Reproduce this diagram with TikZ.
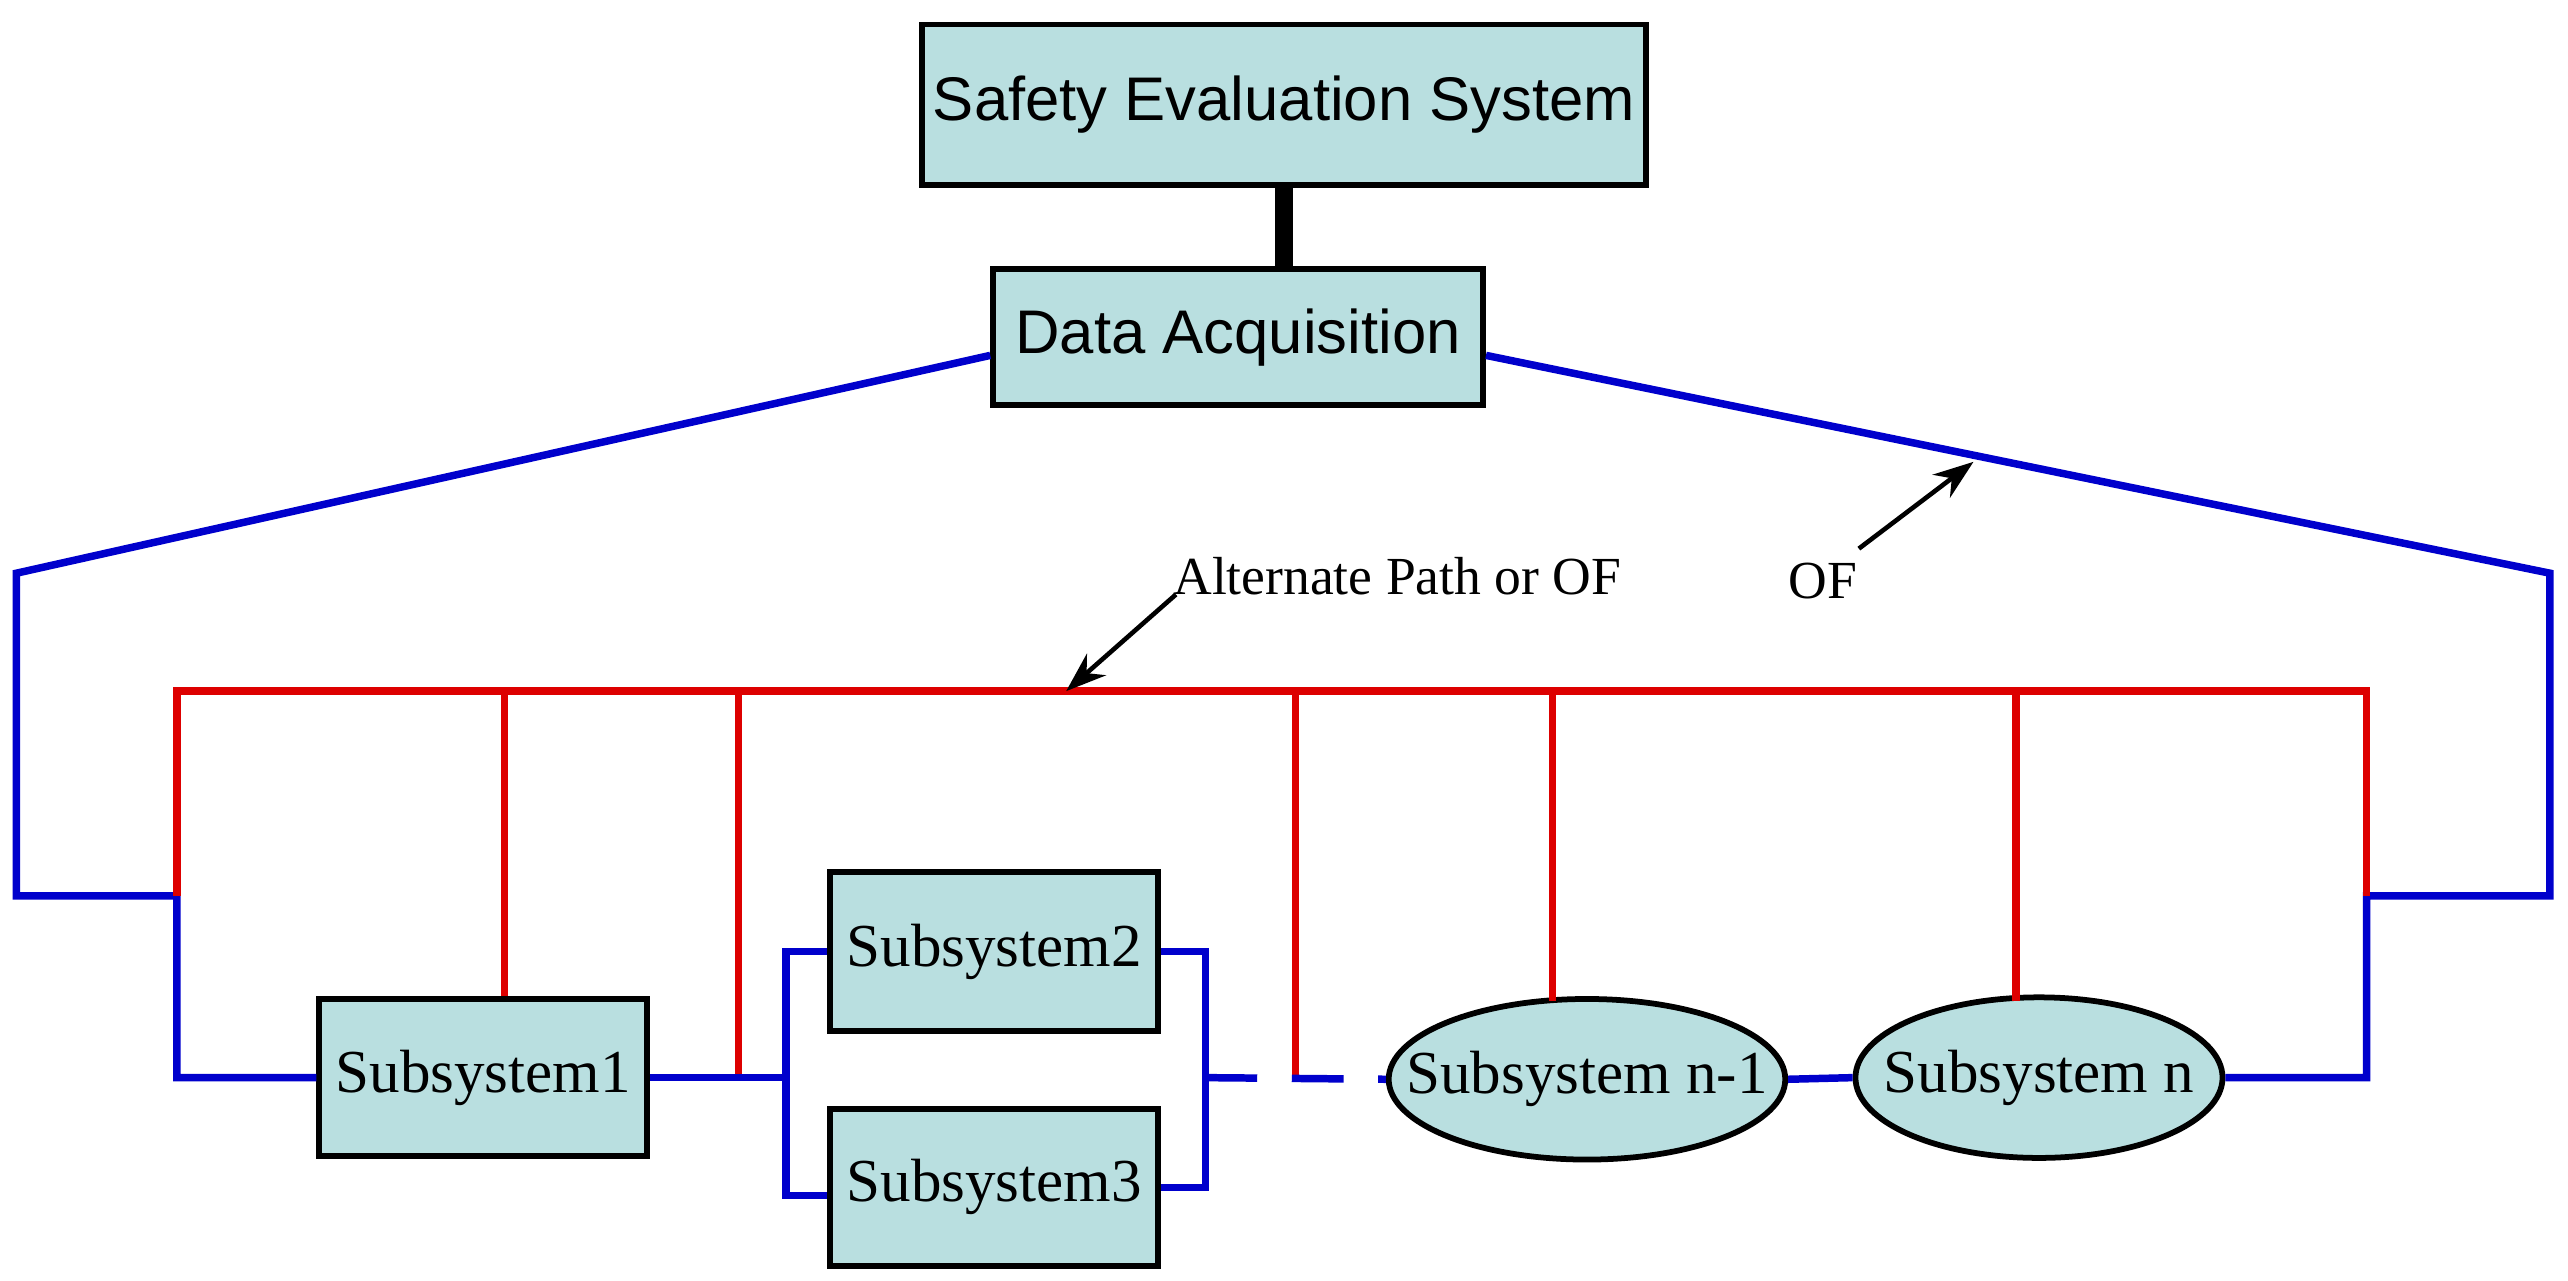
\documentclass[tikz,border=0pt]{standalone}
\usepackage{fontspec}
\setmainfont{Liberation Serif}
\newfontfamily\arialf{Liberation Sans}
\usetikzlibrary{shapes.geometric,arrows.meta}
\definecolor{boxfill}{HTML}{B9DFE0}
\definecolor{bl}{HTML}{0000CC}
\definecolor{rd}{HTML}{DD0000}
\begin{document}
\begin{tikzpicture}[x=0.01cm,y=-0.01cm,
  box/.style={draw,fill=boxfill,line width=1pt,inner sep=0pt},
  ell/.style={draw,fill=boxfill,ellipse,line width=1pt,inner sep=0pt},
  sub/.style={font=\fontsize{10.6}{12}\selectfont},
  top/.style={font=\arialf\fontsize{10.7}{12}\selectfont},
  blue/.style={draw=bl,line width=1.3pt},
  red/.style={draw=rd,line width=1.3pt},
  ann/.style={font=\fontsize{9.3}{11}\selectfont},
  arr/.style={draw,line width=0.8pt,-{Stealth[length=7pt,width=5pt]}}]
\useasboundingbox (0,0) rectangle (1568,782);
\node[box,top,minimum width=4.42cm,minimum height=0.98cm] (ses) at (784,64) {Safety Evaluation System};
\node[box,top,minimum width=2.99cm,minimum height=0.83cm] (da) at (756,206) {Data Acquisition};
\node[box,sub,minimum width=2.0cm,minimum height=0.96cm] (s1) at (295,658) {Subsystem1};
\node[box,sub,minimum width=2.0cm,minimum height=0.97cm] (s2) at (607,581) {Subsystem2};
\node[box,sub,minimum width=2.0cm,minimum height=0.96cm] (s3) at (607,725) {Subsystem3};
\node[ell,sub,minimum width=2.42cm,minimum height=0.98cm] (sn1) at (969,659) {\makebox[0pt]{Subsystem n-1}};
\node[ell,sub,minimum width=2.24cm,minimum height=0.98cm] (sn) at (1245,658) {\makebox[0pt]{Subsystem n}};
\draw[line width=3.2pt] (ses.south) -- (da.north -| ses.south);
% blue outer loops
\coordinate (L1) at (10,350); \coordinate (L2) at (10,547); \coordinate (L3) at (108,547); \coordinate (L4) at (108,658);
\coordinate (R1) at (1557,350); \coordinate (R2) at (1557,547); \coordinate (R3) at (1445,547); \coordinate (R4) at (1445,658);
\draw[blue] (da.west |- 0,217) -- (L1) -- (L2) -- (L3) -- (L4) -- (s1.west);
\draw[blue] (da.east |- 0,217) -- (R1) -- (R2) -- (R3) -- (R4) -- (sn.east);
% red bus
\coordinate (B1) at (108,422); \coordinate (B2) at (1445,422);
\draw[red] (L3) -- (B1) -- (B2) -- (R3);
\draw[red] (308,422) -- (s1.north -| 308,0);
\draw[red] (451,422) -- (451,658);
\draw[red] (791,422) -- (791,658);
\draw[red] (948,422) -- (948,611);
\draw[red] (1231,422) -- (1231,611);
% subsystem links
\coordinate (J1) at (480,658);
\draw[blue] (s1.east) -- (J1);
\draw[blue] (s2.west) -- (480,581) -- (480,730) -- (s3.west |- 0,730);
\draw[blue] (s2.east) -- (736,581) -- (736,725) -- (s3.east);
\draw[blue,dash pattern=on 9pt off 6pt] (736,658) -- (sn1.west);
\draw[blue] (sn1.east) -- (sn.west);
% annotations
\node[ann,anchor=west] (alt) at (704,352) {Alternate Path or OF};
\coordinate (a1) at (718,363); \coordinate (a2) at (651,422);
\draw[arr] (a1) -- (a2);
\node[ann] (of) at (1113,355) {OF};
\coordinate (o1) at (1135,335); \coordinate (o2) at (1205,282);
\draw[arr] (o1) -- (o2);
\end{tikzpicture}
\end{document}
